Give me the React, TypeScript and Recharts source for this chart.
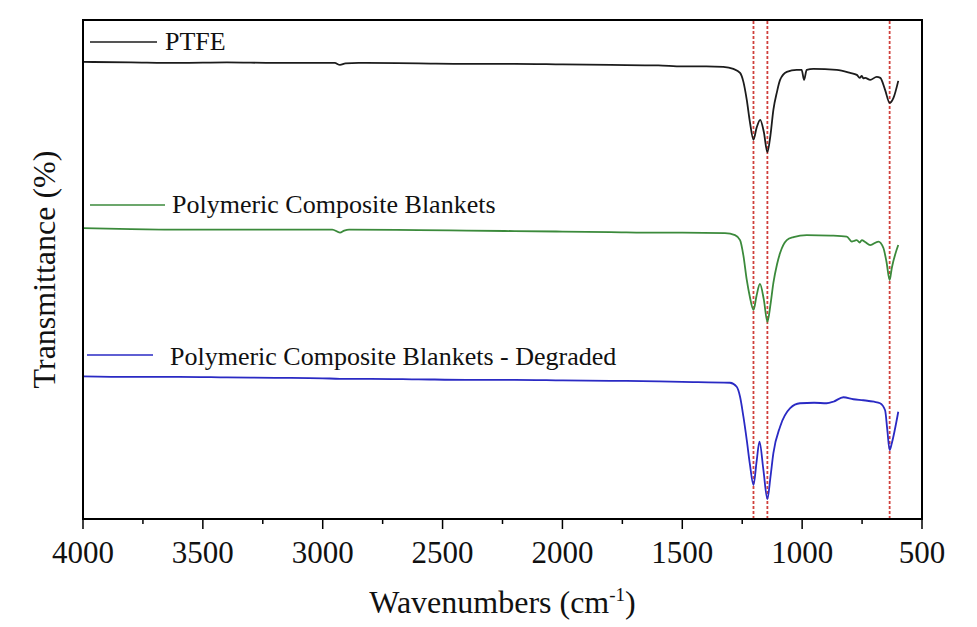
import { LineChart, Line, XAxis, YAxis, ReferenceLine, ReferenceArea } from 'recharts'

const FONT = "'Liberation Serif', 'Times New Roman', serif"

// PTFE spectrum (wavenumber, transmittance a.u.)
const ptfeWn = [4000, 3800, 3600, 3400, 3200, 3000, 2950, 2928, 2905, 2850, 2600, 2400, 2200, 2000, 1800, 1600, 1500, 1400, 1329, 1287, 1259, 1245, 1231, 1218, 1203, 1190, 1175, 1160, 1145, 1132, 1120, 1105, 1092, 1064, 1023, 1002, 992, 981, 953, 856, 800, 772, 760, 751, 745, 737, 716, 689, 674, 654, 635, 619, 599]
const ptfeT = [91.6, 91.5, 91.4, 91.5, 91.4, 91.4, 91.4, 91.0, 91.3, 91.4, 91.3, 91.2, 91.2, 91.1, 91.0, 90.9, 90.7, 90.7, 90.6, 90.2, 89.4, 87.6, 84.0, 79.6, 76.0, 78.4, 80.0, 77.6, 73.5, 77.0, 82.0, 85.6, 88.0, 89.6, 90.0, 90.0, 88.0, 90.0, 90.2, 90.0, 89.4, 89.0, 88.4, 88.8, 88.3, 88.4, 88.0, 88.6, 88.4, 86.0, 83.4, 84.4, 87.8]

// Polymeric Composite Blankets
const blanketWn = [4000, 3800, 3600, 3400, 3200, 2960, 2928, 2910, 2890, 2600, 2400, 2200, 2000, 1800, 1600, 1500, 1322, 1280, 1259, 1245, 1231, 1218, 1203, 1190, 1176, 1160, 1145, 1132, 1120, 1105, 1092, 1064, 1036, 981, 880, 814, 793, 780, 772, 760, 751, 737, 716, 682, 661, 648, 635, 626, 599]
const blanketT = [58.3, 58.1, 58.0, 58.0, 58.0, 58.0, 57.4, 57.8, 58.0, 57.9, 57.8, 57.7, 57.6, 57.5, 57.4, 57.4, 57.3, 56.9, 55.9, 52.8, 47.9, 44.5, 41.9, 44.8, 47.1, 44.0, 39.5, 43.0, 47.3, 51.0, 53.3, 55.9, 56.5, 56.9, 56.8, 56.6, 55.6, 55.8, 55.9, 55.4, 55.9, 55.5, 54.9, 55.6, 54.3, 51.5, 47.9, 50.3, 54.9]

// Polymeric Composite Blankets - Degraded
const degradedWn = [4000, 3800, 3600, 3400, 3200, 3000, 2928, 2800, 2600, 2400, 2200, 2000, 1800, 1600, 1500, 1301, 1273, 1259, 1245, 1231, 1218, 1203, 1190, 1178, 1162, 1145, 1132, 1120, 1092, 1050, 1009, 950, 898, 870, 828, 786, 745, 700, 675, 654, 645, 635, 626, 599]
const degradedT = [28.6, 28.5, 28.5, 28.4, 28.3, 28.2, 28.1, 28.1, 28.0, 27.9, 27.9, 27.8, 27.7, 27.6, 27.5, 27.3, 26.5, 24.5, 20.5, 15.8, 11.0, 6.8, 11.5, 15.5, 10.0, 4.0, 8.5, 13.2, 18.5, 22.2, 23.2, 23.3, 23.2, 23.5, 24.4, 24.0, 23.8, 23.5, 23.2, 21.8, 18.0, 13.8, 15.2, 21.5]

const xTicks = [4000, 3750, 3500, 3250, 3000, 2750, 2500, 2250, 2000, 1750, 1500, 1250, 1000, 750, 500]
const peakLines = [1203, 1145, 635]
const seriesNames = ['PTFE', 'Polymeric Composite Blankets', 'Polymeric Composite Blankets - Degraded']

const toRows = (wn: number[], t: number[]) => wn.map((w, i) => ({ wn: w, t: t[i] }))

const series = [
  { name: seriesNames[0], color: '#1c1c1c', data: toRows(ptfeWn, ptfeT) },
  { name: seriesNames[1], color: '#3b8a3b', data: toRows(blanketWn, blanketT) },
  { name: seriesNames[2], color: '#2a2ac4', data: toRows(degradedWn, degradedT) }
]

// legend placement (page px): line start/end, line y, text x, text baseline
const legendPos = [
  { x1: 90, x2: 157, ly: 42, tx: 165, ty: 50 },
  { x1: 90, x2: 165, ly: 205, tx: 172, ty: 213 },
  { x1: 87, x2: 153, ly: 355, tx: 170, ty: 365 }
]

const XTick = (props: any) => {
  const { x, y, payload } = props
  const major = payload.value % 500 === 0
  return (
    <g>
      <line x1={x} x2={x} y1={y} y2={y + (major ? 10 : 5)} stroke='#000' strokeWidth={1.5} />
      {major && (
        <text x={x} y={y + 44} textAnchor='middle' fontSize={31} fontFamily={FONT} fill='#111'>
          {payload.value}
        </text>
      )}
    </g>
  )
}

const XTitle = (props: any) => {
  const { x, y, width } = props.viewBox
  return (
    <text x={x + width / 2} y={y + 94} textAnchor='middle' fontSize={32} fontFamily={FONT} fill='#111'>
      Wavenumbers (cm<tspan dy={-12} fontSize={19}>-1</tspan><tspan dy={12}>)</tspan>
    </text>
  )
}

const YTitle = (props: any) => {
  const { x, y, width, height } = props.viewBox
  const cx = x + width - 28
  const cy = y + height / 2
  return (
    <text x={cx} y={cy} transform={`rotate(-90, ${cx}, ${cy})`} textAnchor='middle' fontSize={32} fontFamily={FONT} fill='#111'>
      Transmittance (%)
    </text>
  )
}

const App = (): JSX.Element => (
  <div style={{ position: 'absolute', left: 0, top: 0, width: 977, height: 627, background: '#fff' }}>
    <LineChart width={977} height={627} margin={{ top: 20, right: 55, bottom: 0, left: 0 }}>
      <XAxis
        type='number'
        dataKey='wn'
        domain={[500, 4000]}
        reversed
        allowDataOverflow
        ticks={xTicks}
        interval={0}
        height={108}
        tickSize={0}
        tickMargin={0}
        tickLine={false}
        tick={<XTick />}
        axisLine={{ stroke: '#000', strokeWidth: 2 }}
        label={{ content: <XTitle /> }}
      />
      <YAxis
        type='number'
        domain={[0, 100]}
        width={83}
        tick={false}
        tickLine={false}
        axisLine={{ stroke: '#000', strokeWidth: 2 }}
        label={{ content: <YTitle /> }}
      />
      <ReferenceArea x1={500} x2={4000} y1={0} y2={100} fill='none' stroke='#000' strokeWidth={2} />
      {peakLines.map((p) => (
        <ReferenceLine key={p} x={p} stroke='#d0403c' strokeWidth={1.8} strokeDasharray='3 2' />
      ))}
      {series.map((s) => (
        <Line
          key={s.name}
          data={s.data}
          dataKey='t'
          type='monotone'
          stroke={s.color}
          strokeWidth={1.8}
          dot={false}
          isAnimationActive={false}
        />
      ))}
    </LineChart>
    <svg width={977} height={627} style={{ position: 'absolute', left: 0, top: 0, pointerEvents: 'none' }}>
      {series.map((s, i) => (
        <g key={s.name}>
          <line x1={legendPos[i].x1} x2={legendPos[i].x2} y1={legendPos[i].ly} y2={legendPos[i].ly} stroke={s.color} strokeWidth={1.6} />
          <text x={legendPos[i].tx} y={legendPos[i].ty} fontSize={26} fontFamily={FONT} fill='#111'>{s.name}</text>
        </g>
      ))}
    </svg>
  </div>
)

export default App
